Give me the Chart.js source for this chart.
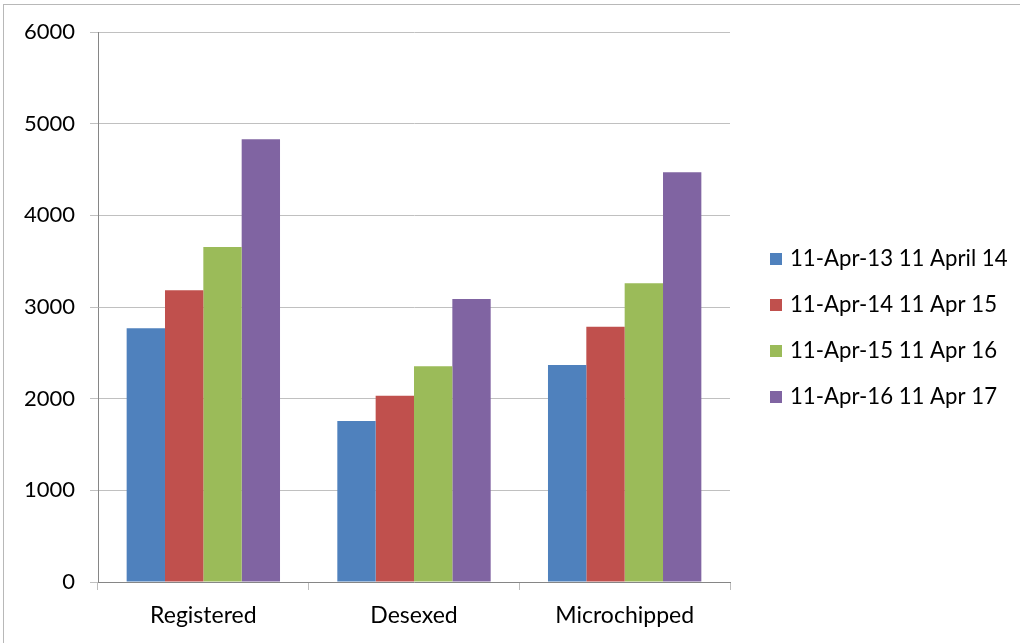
<!DOCTYPE html>
<html>
<head>
<meta charset="utf-8">
<script src="https://cdn.jsdelivr.net/npm/chart.js@4/dist/chart.umd.min.js"></script>
<style>
  html, body { margin: 0; padding: 0; background: #ffffff; }
  #wrap { position: relative; width: 1020px; height: 643px; overflow: hidden; }
  #frame { position: absolute; left: 3px; top: 4px; width: 1100px; height: 700px;
           border-left: 1px solid #b8b8b8; border-top: 1px solid #b8b8b8; pointer-events: none; }
  canvas { position: absolute; left: 0; top: 0; }
</style>
</head>
<body>
<div id="wrap">
  <canvas id="chart" width="1020" height="643"></canvas>
  <div id="frame"></div>
</div>
<script>
// Pet registrations by year, grouped by status
const categories = ['Registered', 'Desexed', 'Microchipped'];
const seriesLabels = [
  '11-Apr-13 11 April 14',
  '11-Apr-14 11 Apr 15',
  '11-Apr-15 11 Apr 16',
  '11-Apr-16 11 Apr 17'
];
const period2013 = [2768, 1756, 2367];
const period2014 = [3182, 2033, 2785];
const period2015 = [3654, 2353, 3258];
const period2016 = [4829, 3087, 4469];
const yTicks = [0, 1000, 2000, 3000, 4000, 5000, 6000];

const colors = ['#4F81BD', '#C0504D', '#9BBB59', '#8064A2'];
const seriesValues = [period2013, period2014, period2015, period2016];
const FONT = 'Lato, "Open Sans", sans-serif';

// Legend drawn to the right of the plot, square swatches followed by labels
const sideLegend = {
  id: 'sideLegend',
  afterDraw(chart) {
    const ctx = chart.ctx;
    const area = chart.chartArea;
    const boxX = area.right + 40;
    const textX = boxX + 20;
    const rowGap = 46;
    const firstY = 259;
    ctx.save();
    ctx.font = '22.2px ' + FONT;
    ctx.textBaseline = 'middle';
    ctx.textAlign = 'left';
    chart.data.datasets.forEach((ds, i) => {
      const y = firstY + i * rowGap;
      ctx.fillStyle = ds.backgroundColor;
      ctx.fillRect(boxX, y - 6, 12, 12);
      ctx.fillStyle = '#000000';
      ctx.fillText(ds.label, textX, y);
    });
    ctx.restore();
  }
};

new Chart(document.getElementById('chart'), {
  type: 'bar',
  data: {
    labels: categories,
    datasets: seriesLabels.map((label, i) => ({
      label: label,
      data: seriesValues[i],
      backgroundColor: colors[i],
      borderWidth: 0,
      categoryPercentage: 0.728,
      barPercentage: 1.0
    }))
  },
  options: {
    responsive: false,
    animation: false,
    devicePixelRatio: 1,
    layout: { padding: { top: 32, right: 290, bottom: 0, left: 0 } },
    plugins: {
      legend: { display: false },
      tooltip: { enabled: false }
    },
    scales: {
      x: {
        afterFit(scale) { scale.height = 61; },
        grid: {
          offset: true,
          drawOnChartArea: false,
          drawTicks: true,
          tickLength: 8,
          color: '#bdbdbd'
        },
        border: { color: '#868686', width: 1 },
        ticks: {
          color: '#000000',
          font: { family: FONT, size: 23 },
          padding: 12
        }
      },
      y: {
        min: 0,
        max: 6000,
        afterFit(scale) { scale.width = 98; },
        afterBuildTicks(scale) { scale.ticks = yTicks.map(v => ({ value: v })); },
        grid: {
          color: '#c0c0c0',
          tickLength: 8,
          drawTicks: true
        },
        border: { color: '#868686', width: 1 },
        ticks: {
          color: '#000000',
          font: { family: FONT, size: 22 },
          padding: 15,
          callback: (value) => String(value)
        }
      }
    }
  },
  plugins: [sideLegend]
});
</script>
</body>
</html>
